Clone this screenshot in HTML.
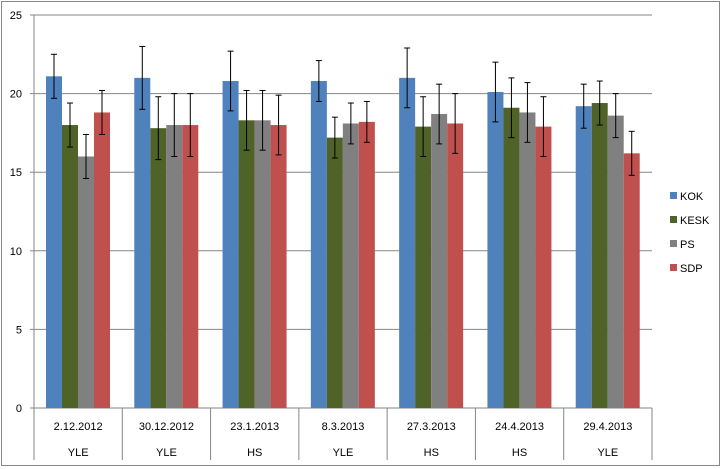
<!DOCTYPE html>
<html><head><meta charset="utf-8"><style>
body{margin:0;background:#fff}
svg{display:block;font-family:"Liberation Sans",sans-serif}
</style></head><body>
<svg id="c" width="722" height="469">
<rect x="1.5" y="1.5" width="718" height="464" fill="#fff" stroke="#888"/>
</svg>
<script>
const dates=["2.12.2012","30.12.2012","23.1.2013","8.3.2013","27.3.2013","24.4.2013","29.4.2013"];
const pollsters=["YLE","YLE","HS","YLE","HS","HS","YLE"];
const seriesNames=["KOK","KESK","PS","SDP"];
const colors=["#4f81bd","#4f6228","#808080","#c0504d"];
const kok=[21.1,21.0,20.8,20.8,21.0,20.1,19.2];
const kesk=[18.0,17.8,18.3,17.2,17.9,19.1,19.4];
const ps=[16.0,18.0,18.3,18.1,18.7,18.8,18.6];
const sdp=[18.8,18.0,18.0,18.2,18.1,17.9,16.2];
const errs=[1.4,2.0,1.9,1.3,1.9,1.9,1.4];
const yTicks=[0,5,10,15,20,25];
const NS="http://www.w3.org/2000/svg";
const svg=document.getElementById('c');
const x0=34,x1=652,y0=408,yTop=15;
const y=v=>y0-(v/25)*(y0-yTop);
const gw=(x1-x0)/dates.length;
function mk(t,a,p){const e=document.createElementNS(NS,t);for(const k in a)e.setAttribute(k,a[k]);(p||svg).appendChild(e);return e;}
yTicks.forEach(t=>{
 if(t>0){const l=mk('line',{x1:x0,x2:x1,y1:y(t),y2:y(t),stroke:'#868686'});
 
 }
 const tl=mk('text',{x:x0-12,y:y(t)+4,'text-anchor':'end','font-size':11,fill:'#000'});tl.textContent=t;
 
 
 mk('line',{x1:x0-4,x2:x0,y1:y(t),y2:y(t),stroke:'#868686'});
});
mk('line',{x1:x0,x2:x0,y1:yTop,y2:y0,stroke:'#868686'});
mk('line',{x1:x0,x2:x1,y1:y0,y2:y0,stroke:'#868686'});
const all=[kok,kesk,ps,sdp];
for(let i=0;i<dates.length;i++){
 const gx=x0+i*gw;
 all.forEach((s,j)=>{
  const bx=gx+12+j*16;
  const r=mk('rect',{x:bx,y:y(s[i]),width:16,height:y0-y(s[i]),fill:colors[j]});
  
  
  const cx=bx+8,e=errs[i];
  const g=mk('g',{stroke:'#000','stroke-width':1});
  
  
  mk('line',{x1:cx,x2:cx,y1:y(s[i]+e),y2:y(s[i]-e)},g);
  mk('line',{x1:cx-3,x2:cx+3,y1:y(s[i]+e),y2:y(s[i]+e)},g);
  mk('line',{x1:cx-3,x2:cx+3,y1:y(s[i]-e),y2:y(s[i]-e)},g);
 });
 const d=mk('text',{x:gx+gw/2,y:430,'text-anchor':'middle','font-size':11});d.textContent=dates[i];
 
 
 const p=mk('text',{x:gx+gw/2,y:456,'text-anchor':'middle','font-size':11});p.textContent=pollsters[i];
 
 
}
for(let i=0;i<=dates.length;i++){const gx=x0+i*gw;mk('line',{x1:gx,x2:gx,y1:y0,y2:460,stroke:'#868686'});}
seriesNames.forEach((n,j)=>{
 const ly=196+j*24;
 const g=mk('g',{});
 
 
 mk('rect',{x:670,y:ly-4,width:7,height:7,fill:colors[j]},g);
 const t=mk('text',{x:680,y:ly+4,'font-size':11},g);t.textContent=n;
});
</script>
</body></html>
